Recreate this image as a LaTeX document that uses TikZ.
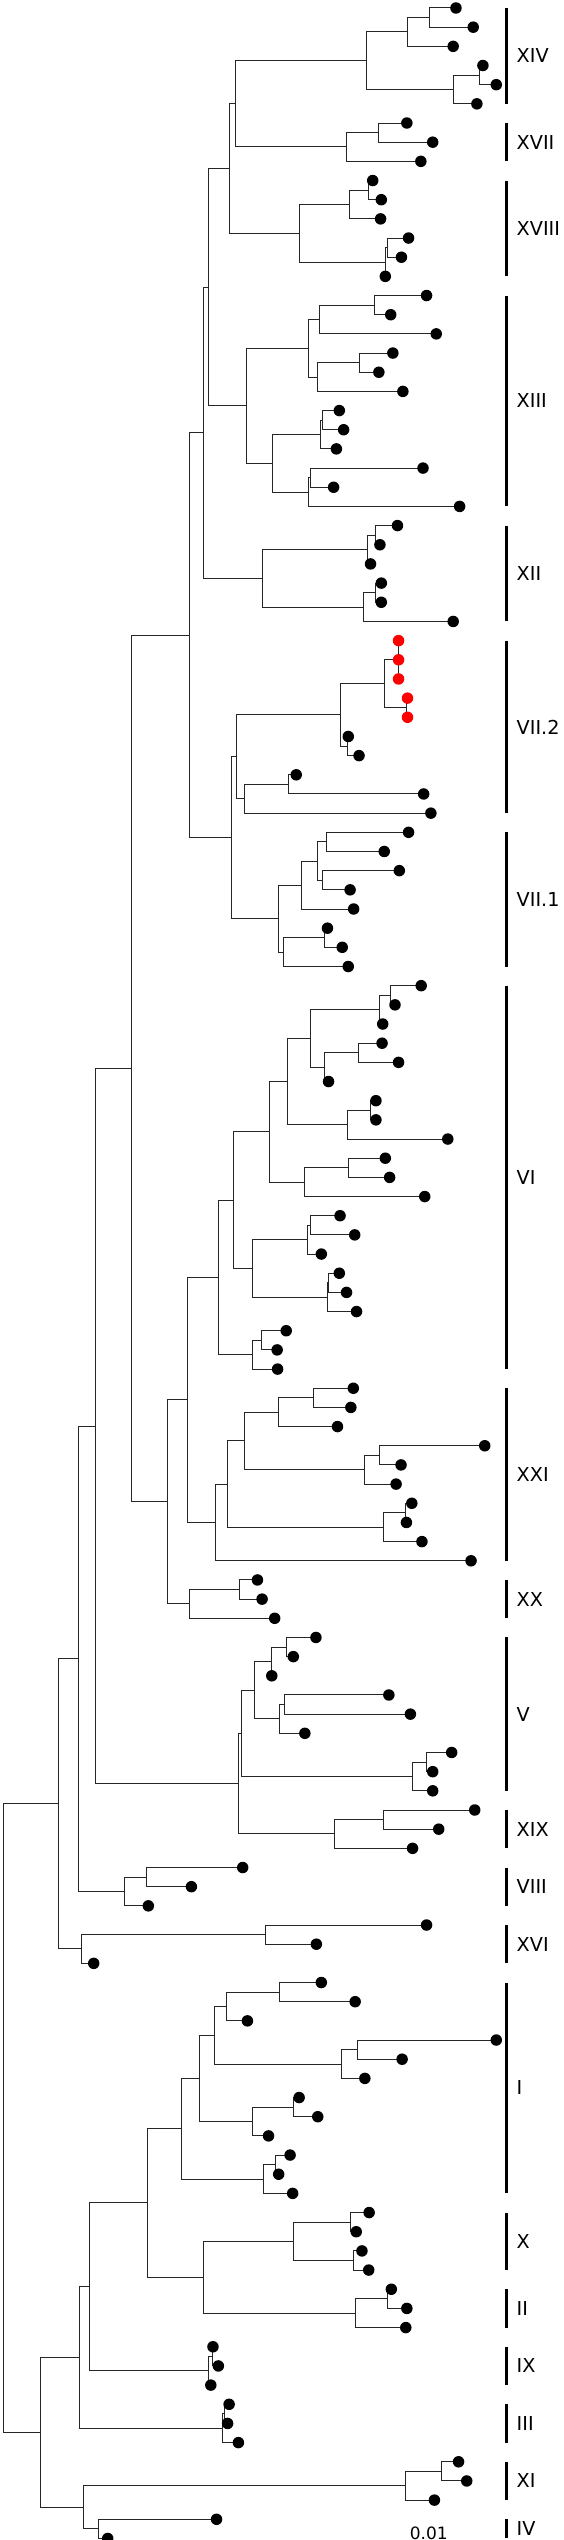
\documentclass[tikz,border=0pt]{standalone}
\usepackage{fontspec}
\setmainfont{DejaVu Sans}
\usetikzlibrary{calc}
\newcommand\Lf[2]{\coordinate (L#1) at (#2,{8+19.17*#1});}
\newcommand\Nd[4]{\path let \p1=($(#3)!0.5!(#4)$), \p2=(#2,0) in (\x2,\y1) coordinate (#1);
  \draw[br] (#1) |- (#3); \draw[br] (#1) |- (#4);}
\newcommand\Cl[4]{\draw[bar] (L#2 -| bx) -- (L#3 -| bx);
  \node[lab] (T#1) at ($(L#2 -| tx)!0.5!(L#3 -| tx)$) {#4};}
\begin{document}
\begin{tikzpicture}[x=1.0772pt,y=-1pt,
  br/.style={line width=1pt,draw=black!85,line cap=rect},
  bar/.style={line width=2.8pt,draw=black},
  dot/.style={circle,fill=black,inner sep=0pt,minimum size=11.5pt},
  reddot/.style={dot,fill=red},
  lab/.style={anchor=west,inner sep=0pt,font=\fontsize{19.2pt}{23pt}\selectfont}]
\path[use as bounding box] (0pt,0pt) rectangle (563pt,-2540pt);
% leaves
\Lf{0}{423.3}\Lf{1}{439.3}\Lf{2}{420.7}\Lf{3}{448.3}\Lf{4}{460.7}\Lf{5}{442.7}
\Lf{6}{377.7}\Lf{7}{401.7}\Lf{8}{390.7}\Lf{9}{346}\Lf{10}{354}\Lf{11}{353.3}
\Lf{12}{379.3}\Lf{13}{372.7}\Lf{14}{357.7}\Lf{15}{396}\Lf{16}{362.7}\Lf{17}{405}
\Lf{18}{364.7}\Lf{19}{351.7}\Lf{20}{374}\Lf{21}{315}\Lf{22}{319}\Lf{23}{312.3}
\Lf{24}{392.7}\Lf{25}{309.7}\Lf{26}{426.7}\Lf{27}{369}\Lf{28}{352.7}\Lf{29}{344}
\Lf{30}{354}\Lf{31}{354}\Lf{32}{420.7}\Lf{33}{370}\Lf{34}{370}\Lf{35}{370}
\Lf{36}{378.3}\Lf{37}{378.3}\Lf{38}{323.3}\Lf{39}{333.3}\Lf{40}{275}\Lf{41}{393.3}
\Lf{42}{400}\Lf{43}{379.3}\Lf{44}{356.7}\Lf{45}{370.7}\Lf{46}{325}\Lf{47}{328.3}
\Lf{48}{304}\Lf{49}{317.7}\Lf{50}{323.3}\Lf{51}{391}\Lf{52}{366.7}\Lf{53}{355.3}
\Lf{54}{354.7}\Lf{55}{370}\Lf{56}{305}\Lf{57}{349}\Lf{58}{349}\Lf{59}{415.7}
\Lf{60}{357.7}\Lf{61}{361.7}\Lf{62}{394.3}\Lf{63}{315.7}\Lf{64}{329.3}\Lf{65}{298.3}
\Lf{66}{315}\Lf{67}{321.7}\Lf{68}{331}\Lf{69}{265.7}\Lf{70}{257.3}\Lf{71}{257.7}
\Lf{72}{328}\Lf{73}{325.7}\Lf{74}{313.3}\Lf{75}{450}\Lf{76}{372.3}\Lf{77}{367.7}
\Lf{78}{382.3}\Lf{79}{377.3}\Lf{80}{391.7}\Lf{81}{437.3}\Lf{82}{239}\Lf{83}{243.3}
\Lf{84}{255}\Lf{85}{293.3}\Lf{86}{272.3}\Lf{87}{252.3}\Lf{88}{361}\Lf{89}{381}
\Lf{90}{283}\Lf{91}{419.3}\Lf{92}{401.7}\Lf{93}{401.7}\Lf{94}{440.7}\Lf{95}{407.3}
\Lf{96}{383}\Lf{97}{225.3}\Lf{98}{177.7}\Lf{99}{137.7}\Lf{100}{396}\Lf{101}{293.7}
\Lf{102}{87}\Lf{103}{298.3}\Lf{104}{329.7}\Lf{105}{229.7}\Lf{106}{460.7}\Lf{107}{373.3}
\Lf{108}{338.7}\Lf{109}{277.7}\Lf{110}{295}\Lf{111}{249.3}\Lf{112}{269.3}\Lf{113}{258.7}
\Lf{114}{271.7}\Lf{115}{342.7}\Lf{116}{330.7}\Lf{117}{336}\Lf{118}{342.3}\Lf{119}{363.3}
\Lf{120}{377.7}\Lf{121}{376.7}\Lf{122}{197.7}\Lf{123}{202.7}\Lf{124}{195.7}\Lf{125}{212.7}
\Lf{126}{211.3}\Lf{127}{221.3}\Lf{128}{425.7}\Lf{129}{433.3}\Lf{130}{403.3}\Lf{131}{201}
\Lf{132}{100}
% internal nodes and branches
\Nd{a1}{398.3}{L0}{L1}\Nd{a2}{378.3}{a1}{L2}\Nd{a3}{445}{L3}{L4}\Nd{a4}{420.7}{a3}{L5}
\Nd{a5}{340}{a2}{a4}\Nd{a6}{351.7}{L6}{L7}\Nd{a7}{321.7}{a6}{L8}\Nd{a8}{219}{a5}{a7}
\Nd{b1}{341.7}{L9}{L10}\Nd{b2}{324}{b1}{L11}\Nd{b3}{360}{L12}{L13}\Nd{b4}{357.7}{b3}{L14}
\Nd{b5}{277.7}{b2}{b4}\Nd{a9}{213.3}{a8}{b5}
\Nd{c1}{347.3}{L15}{L16}\Nd{c2}{296.7}{c1}{L17}\Nd{c3}{334}{L18}{L19}\Nd{c4}{295}{c3}{L20}
\Nd{c5}{286.7}{c2}{c4}\Nd{c6}{299.3}{L21}{L22}\Nd{c7}{297.3}{c6}{L23}\Nd{c8}{288.3}{L24}{L25}
\Nd{c9}{286}{c8}{L26}\Nd{c10}{253.3}{c7}{c9}\Nd{c11}{229}{c5}{c10}\Nd{a10}{193.3}{a9}{c11}
\Nd{d1}{348.3}{L27}{L28}\Nd{d2}{340.7}{d1}{L29}\Nd{d3}{348.3}{L30}{L31}\Nd{d4}{337.7}{d3}{L32}
\Nd{d5}{243.3}{d2}{d4}\Nd{a11}{189}{a10}{d5}
\Nd{e1}{370}{L33}{L35}\draw[br] (e1) |- (L34);
\Nd{e2}{377.7}{L36}{L37}\Nd{e3}{356.7}{e1}{e2}\Nd{e4}{322.7}{L38}{L39}\Nd{e5}{316}{e3}{e4}
\Nd{e6}{267.7}{L40}{L41}\Nd{e7}{227.3}{e6}{L42}\Nd{e8}{220}{e5}{e7}
\Nd{f1}{302.7}{L43}{L44}\Nd{f2}{299.3}{L45}{L46}\Nd{f3}{295}{f1}{f2}\Nd{f4}{280}{f3}{L47}
\Nd{f5}{301.7}{L48}{L49}\Nd{f6}{263.3}{f5}{L50}\Nd{f7}{258.7}{f4}{f6}\Nd{e9}{215}{e8}{f7}
\Nd{a12}{176}{a11}{e9}
\Nd{g1}{362.3}{L51}{L52}\Nd{g2}{352.3}{g1}{L53}\Nd{g3}{333}{L54}{L55}\Nd{g4}{301.7}{g3}{L56}
\Nd{g5}{288.3}{g2}{g4}\Nd{g6}{344}{L57}{L58}\Nd{g7}{322.3}{g6}{L59}\Nd{g8}{266.7}{g5}{g7}
\Nd{g9}{323.3}{L60}{L61}\Nd{g10}{282.7}{g9}{L62}\Nd{g11}{250}{g8}{g10}
\Nd{g12}{288.3}{L63}{L64}\Nd{g13}{285}{g12}{L65}\Nd{g14}{305}{L66}{L67}\Nd{g15}{304}{g14}{L68}
\Nd{g16}{234.3}{g13}{g15}\Nd{g17}{216.7}{g11}{g16}\Nd{g18}{242.3}{L69}{L70}\Nd{g19}{234.3}{g18}{L71}
\Nd{g20}{203.3}{g17}{g19}
\Nd{h1}{291}{L72}{L73}\Nd{h2}{259}{h1}{L74}\Nd{h3}{352.3}{L75}{L76}\Nd{h4}{338.3}{h3}{L77}
\Nd{h5}{226.7}{h2}{h4}\Nd{h6}{376}{L78}{L79}\Nd{h7}{356}{h6}{L80}\Nd{h8}{211}{h5}{h7}
\Nd{h9}{200}{h8}{L81}\Nd{h10}{174.3}{g20}{h9}
\Nd{i1}{222.3}{L82}{L83}\Nd{i2}{175.7}{i1}{L84}\Nd{h11}{155.7}{h10}{i2}
\Nd{k0}{121.7}{a12}{h11}
\Nd{j1}{265.7}{L85}{L86}\Nd{j2}{252.3}{j1}{L87}\Nd{j3}{264.3}{L88}{L89}\Nd{j4}{259.3}{j3}{L90}
\Nd{j5}{236.7}{j2}{j4}\Nd{j6}{395.7}{L91}{L92}\Nd{j7}{383.3}{j6}{L93}\Nd{j8}{224.3}{j5}{j7}
\Nd{j9}{356}{L94}{L95}\Nd{j10}{310.7}{j9}{L96}\Nd{j11}{221}{j8}{j10}
\Nd{k1}{88.3}{k0}{j11}
\Nd{l1}{135.7}{L97}{L98}\Nd{l2}{115.7}{l1}{L99}\Nd{k2}{73.3}{k1}{l2}
\Nd{m1}{246.7}{L100}{L101}\Nd{m2}{76}{m1}{L102}\Nd{k3}{54}{k2}{m2}
\Nd{p1}{259.7}{L103}{L104}\Nd{p2}{210}{p1}{L105}\Nd{p3}{332}{L106}{L107}\Nd{p4}{316.7}{p3}{L108}
\Nd{p5}{198.7}{p2}{p4}\Nd{p6}{272.3}{L109}{L110}\Nd{p7}{234.3}{p6}{L111}\Nd{p8}{185}{p5}{p7}
\Nd{p9}{255.7}{L112}{L113}\Nd{p10}{244.3}{p9}{L114}\Nd{p11}{168.3}{p8}{p10}
\Nd{q1}{325}{L115}{L116}\Nd{q2}{328.3}{L117}{L118}\Nd{q3}{272.7}{q1}{q2}
\Nd{q4}{360}{L119}{L120}\Nd{q5}{330}{q4}{L121}\Nd{q6}{189.3}{q3}{q5}\Nd{p12}{137}{p11}{q6}
\Nd{r1}{197.7}{L122}{L123}\Nd{r2}{193.3}{r1}{L124}\Nd{p13}{83.3}{p12}{r2}
\Nd{s1}{208.7}{L125}{L126}\Nd{s2}{206.7}{s1}{L127}\Nd{p14}{74}{p13}{s2}
\Nd{t1}{410}{L128}{L129}\Nd{t2}{376.7}{t1}{L130}\Nd{t3}{91}{L131}{L132}\Nd{t4}{77.7}{t2}{t3}
\Nd{p15}{37.3}{p14}{t4}
\Nd{root}{3.3}{k3}{p15}
% leaf dots
\foreach \i in {0,...,32,38,39,...,132} \node[dot] (D\i) at (L\i) {};
\foreach \i in {33,...,37} \node[reddot] (D\i) at (L\i) {};
% clade bars and labels
\coordinate (bx) at (470,0);
\coordinate (tx) at (479.5,0);
\Cl{1}{0}{5}{XIV}
\Cl{2}{6}{8}{XVII}
\Cl{3}{9}{14}{XVIII}
\Cl{4}{15}{26}{XIII}
\Cl{5}{27}{32}{XII}
\Cl{6}{33}{42}{VII.2}
\Cl{7}{43}{50}{VII.1}
\Cl{8}{51}{71}{VI}
\Cl{9}{72}{81}{XXI}
\Cl{10}{82}{84}{XX}
\Cl{11}{85}{93}{V}
\Cl{12}{94}{96}{XIX}
\Cl{13}{97}{99}{VIII}
\Cl{14}{100}{102}{XVI}
\Cl{15}{103}{114}{I}
\Cl{16}{115}{118}{X}
\Cl{17}{119}{121}{II}
\Cl{18}{122}{124}{IX}
\Cl{19}{125}{127}{III}
\Cl{20}{128}{130}{XI}
\Cl{21}{131}{132}{IV}
\node[inner sep=0pt,font=\fontsize{17pt}{21pt}\selectfont] (scale) at (398,2533.5) {0.01};
\end{tikzpicture}
\end{document}
